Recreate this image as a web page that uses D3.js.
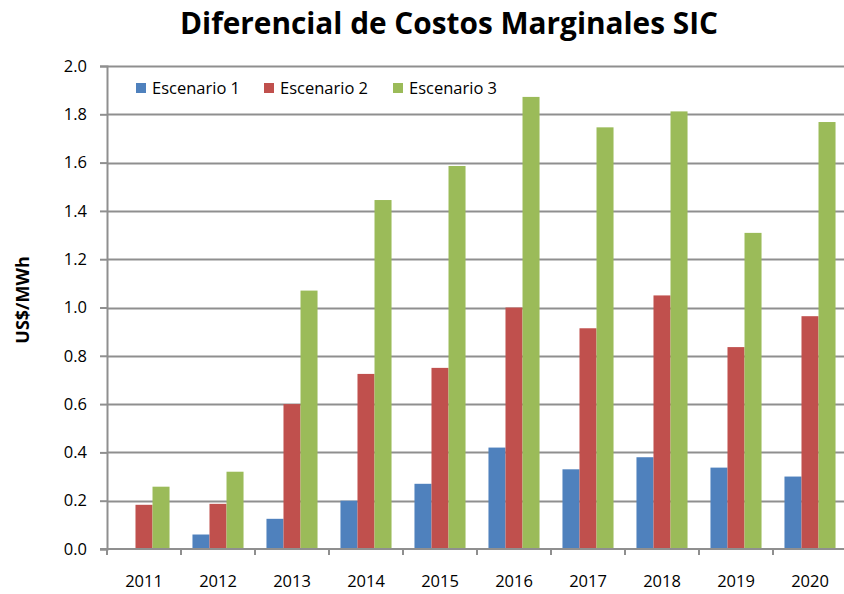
<!DOCTYPE html>
<html>
<head>
<meta charset="utf-8">
<script src="https://cdn.jsdelivr.net/npm/d3@7"></script>
<style>
  html, body { margin: 0; padding: 0; background: #ffffff; }
  svg { display: block; }
</style>
</head>
<body>
<svg id="chart" width="844" height="594"></svg>
<script>
// Years on the category axis
const years = ["2011", "2012", "2013", "2014", "2015", "2016", "2017", "2018", "2019", "2020"];
// Series names shown in the legend
const seriesNames = ["Escenario 1", "Escenario 2", "Escenario 3"];
// Marginal cost differential per scenario (US$/MWh)
const escenario1 = [0.00, 0.06, 0.125, 0.20, 0.27, 0.42, 0.33, 0.38, 0.337, 0.30];
const escenario2 = [0.183, 0.187, 0.60, 0.725, 0.75, 1.00, 0.914, 1.05, 0.836, 0.964];
const escenario3 = [0.258, 0.32, 1.07, 1.445, 1.586, 1.872, 1.746, 1.812, 1.309, 1.768];
// Y axis tick values
const yTicks = [0.0, 0.2, 0.4, 0.6, 0.8, 1.0, 1.2, 1.4, 1.6, 1.8, 2.0];

const seriesValues = [escenario1, escenario2, escenario3];
const colors = ["#4F81BD", "#C0504D", "#9BBB59"];
const font = "'Open Sans', 'DejaVu Sans', sans-serif";

const svg = d3.select("#chart");
const margin = { left: 107, right: -3, top: 66, bottom: 45 };
const W = 844, H = 594;
const x0 = margin.left, x1 = W - margin.right;
const yTop = margin.top, yBot = H - margin.bottom;

const x = d3.scaleBand().domain(years).range([x0, x1]).padding(0);
const gap = x.bandwidth() * 0.31;
const xs = d3.scaleBand().domain(d3.range(seriesNames.length))
  .range([gap / 2, x.bandwidth() - gap / 2]).padding(0);
const y = d3.scaleLinear().domain([0, 2.0]).range([yBot, yTop]);

// Title
svg.append("text")
  .attr("x", 449).attr("y", 34)
  .attr("text-anchor", "middle")
  .attr("font-family", font)
  .attr("font-weight", "bold")
  .attr("font-size", 30)
  .attr("fill", "#000")
  .attr("textLength", 538).attr("lengthAdjust", "spacingAndGlyphs")
  .text("Diferencial de Costos Marginales SIC");

// Horizontal gridlines
svg.append("g")
  .selectAll("line")
  .data(yTicks.slice(1))
  .join("line")
  .attr("x1", x0).attr("x2", x1)
  .attr("y1", d => Math.round(y(d)) + 0.5).attr("y2", d => Math.round(y(d)) + 0.5)
  .attr("stroke", "#8f8f8f").attr("stroke-width", 2);

// Bars
const groups = svg.append("g")
  .selectAll("g")
  .data(years)
  .join("g")
  .attr("transform", d => `translate(${x(d)},0)`);

groups.selectAll("rect")
  .data((yr, i) => seriesValues.map((vals, s) => ({ s, v: vals[i] })))
  .join("rect")
  .attr("x", d => xs(d.s))
  .attr("width", xs.bandwidth())
  .attr("y", d => y(d.v))
  .attr("height", d => yBot - y(d.v))
  .attr("fill", d => colors[d.s]);

// Y axis
const yAxis = d3.axisLeft(y).tickValues(yTicks).tickFormat(d3.format(".1f")).tickSize(7).tickPadding(13);
const gy = svg.append("g").attr("transform", `translate(${x0},0)`).call(yAxis);
gy.select(".domain").attr("stroke", "#8f8f8f").attr("stroke-width", 2);
gy.selectAll(".tick line").attr("stroke", "#8f8f8f").attr("stroke-width", 2);
gy.selectAll(".tick text").attr("font-family", font).attr("font-size", 16.5).attr("fill", "#000");

// X axis: ticks sit on category boundaries
const gx = svg.append("g").attr("transform", `translate(0,${yBot})`);
gx.append("line").attr("x1", x0 - 7).attr("x2", x1).attr("y1", 0).attr("y2", 0)
  .attr("stroke", "#8f8f8f").attr("stroke-width", 2);
gx.selectAll("line.tk")
  .data(years)
  .join("line").attr("class", "tk")
  .attr("x1", d => x(d)).attr("x2", d => x(d))
  .attr("y1", 0).attr("y2", 6)
  .attr("stroke", "#8f8f8f").attr("stroke-width", 2);
gx.selectAll("text")
  .data(years)
  .join("text")
  .attr("x", d => x(d) + x.bandwidth() / 2)
  .attr("y", 38)
  .attr("text-anchor", "middle")
  .attr("font-family", font).attr("font-size", 16.5).attr("fill", "#000")
  .text(d => d);

// Y axis title
svg.append("text")
  .attr("transform", `translate(29,300) rotate(-90)`)
  .attr("text-anchor", "middle")
  .attr("font-family", font).attr("font-weight", "bold").attr("font-size", 18)
  .attr("fill", "#000")
  .text("US$/MWh");

// Legend
const legendX = [136, 264, 393];
const legend = svg.append("g");
seriesNames.forEach((name, i) => {
  legend.append("rect").attr("x", legendX[i]).attr("y", 83).attr("width", 10).attr("height", 10)
    .attr("fill", colors[i]);
  legend.append("text").attr("x", legendX[i] + 16).attr("y", 94)
    .attr("font-family", font).attr("font-size", 16.5).attr("fill", "#000")
    .text(name);
});
</script>
</body>
</html>
